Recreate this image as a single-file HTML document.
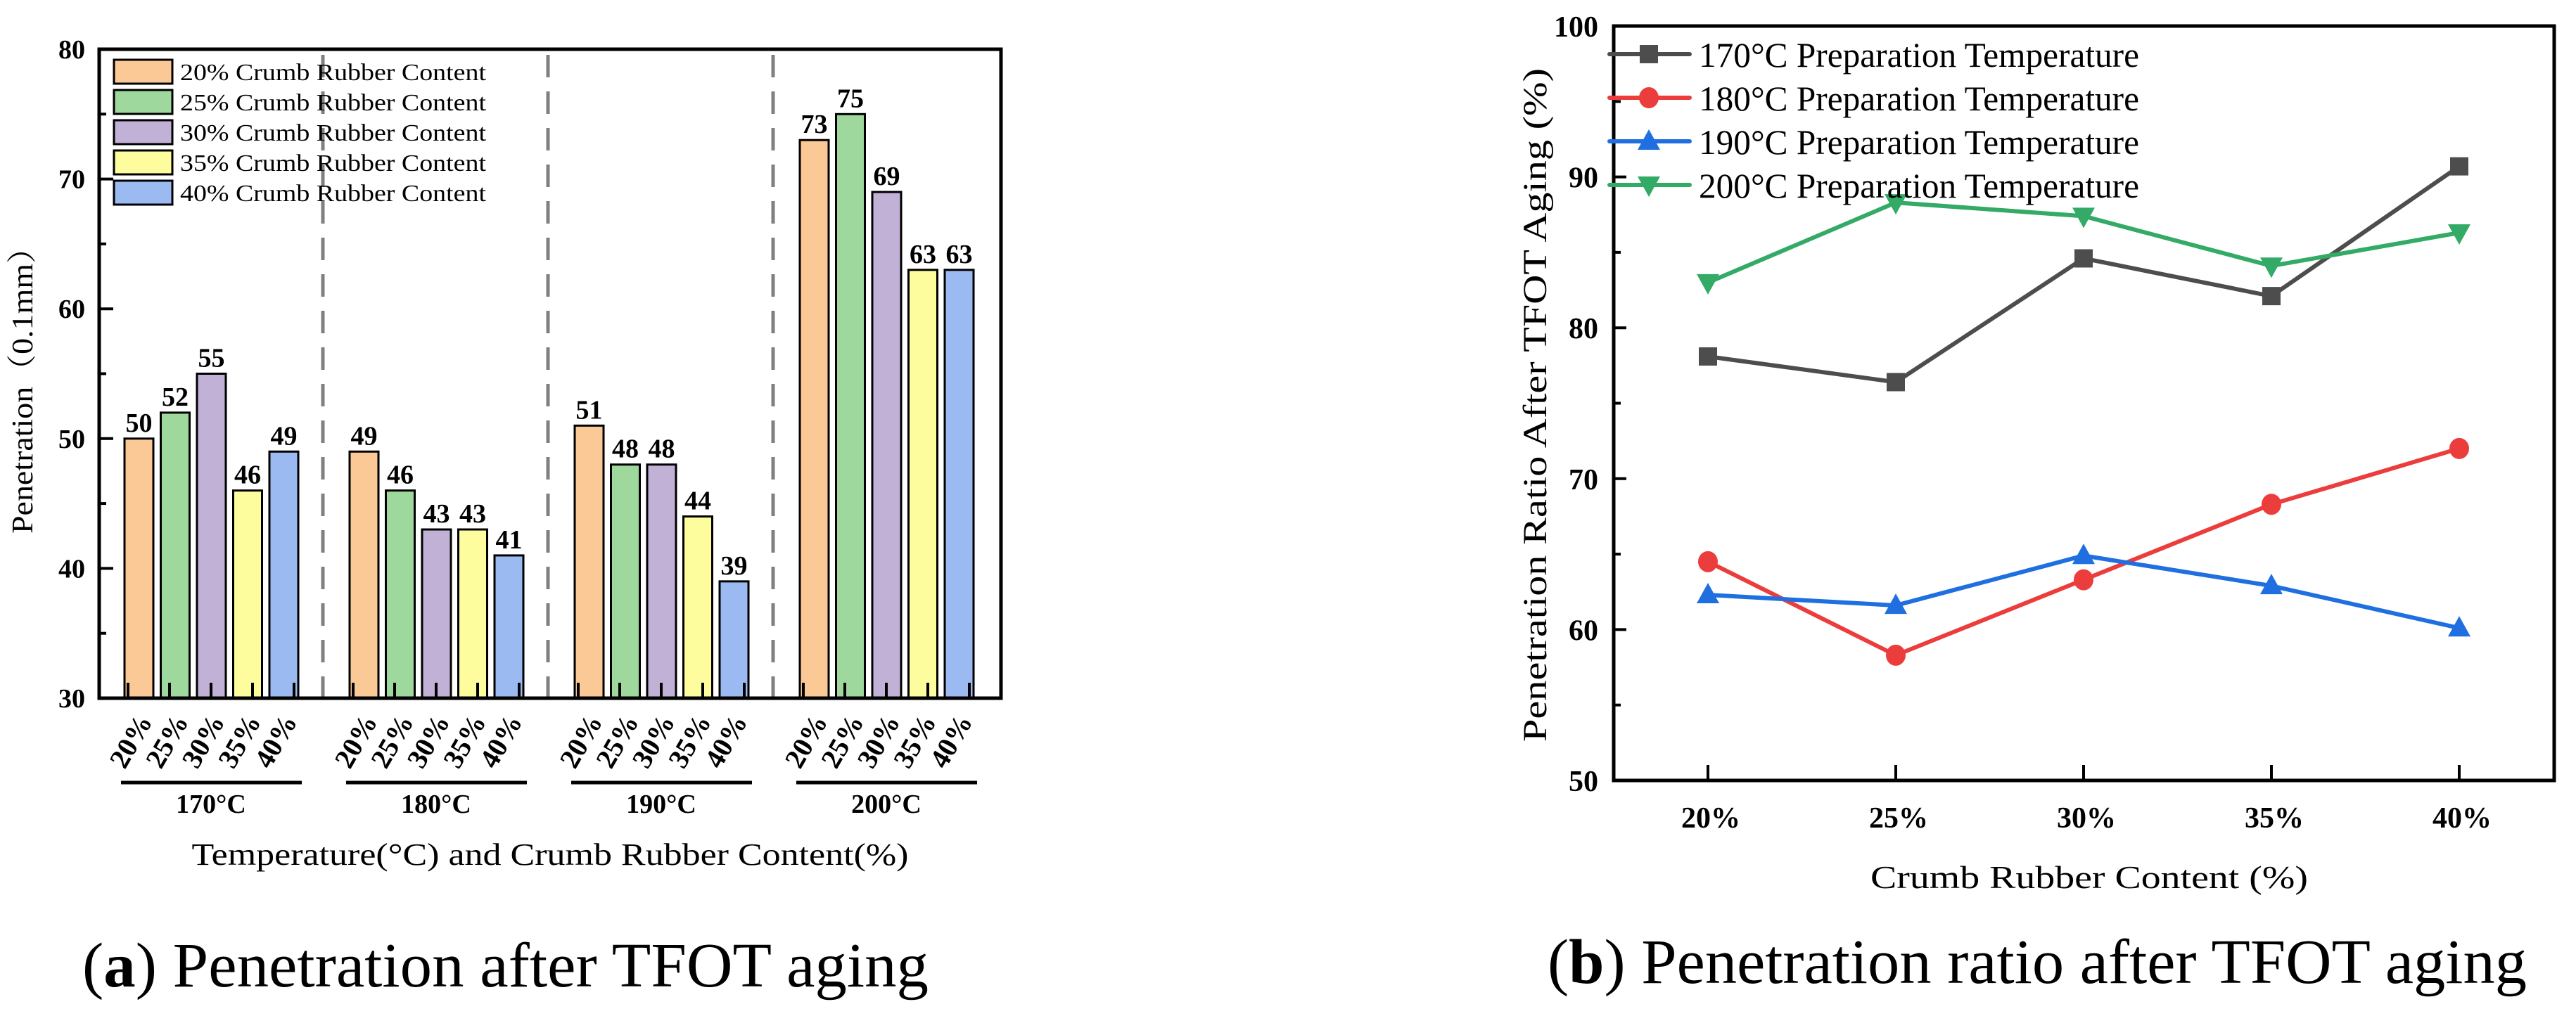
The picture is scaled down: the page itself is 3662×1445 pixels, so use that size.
<!DOCTYPE html>
<html><head><meta charset="utf-8">
<style>
html,body{margin:0;padding:0;background:#fff;}
svg{display:block;font-family:"Liberation Serif","Noto Serif CJK SC",serif;}
</style></head>
<body>
<svg id="fig" width="3662" height="1445" viewBox="0 0 3662 1445" xmlns="http://www.w3.org/2000/svg">
<g id="chartA"></g>
<g id="chartB"></g>
</svg>
<script>
// ---- Chart A data ----
const groups = ["170°C","180°C","190°C","200°C"];
const contents = ["20%","25%","30%","35%","40%"];
const pen170 = [50,52,55,46,49];
const pen180 = [49,46,43,43,41];
const pen190 = [51,48,48,44,39];
const pen200 = [73,75,69,63,63];
const yTicksA = [30,40,50,60,70,80];
const legendA = ["20% Crumb Rubber Content","25% Crumb Rubber Content","30% Crumb Rubber Content","35% Crumb Rubber Content","40% Crumb Rubber Content"];

// ---- Chart B data ----
const categoriesB = ["20%","25%","30%","35%","40%"];
const ratio170 = [78.1,76.4,84.6,82.1,90.7];
const ratio180 = [64.5,58.3,63.3,68.3,72.0];
const ratio190 = [62.3,61.6,64.9,62.9,60.1];
const ratio200 = [83.0,88.3,87.4,84.1,86.3];
const yTicksB = [50,60,70,80,90,100];
const legendB = ["170°C Preparation Temperature","180°C Preparation Temperature","190°C Preparation Temperature","200°C Preparation Temperature"];

const NS="http://www.w3.org/2000/svg";
function mk(parent,tag,attrs,text){const e=document.createElementNS(NS,tag);for(const k in attrs)e.setAttribute(k,attrs[k]);if(text!==undefined)e.textContent=text;parent.appendChild(e);return e;}

// ===== Chart A =====
(function(){
const g=document.getElementById('chartA');
const L=141,R=1423,T=70,B=993;
const yA=v=>B-(v-30)/(80-30)*(B-T);
const barColors=["#fbc996","#9fd89c","#c2b1d6","#fdfd9e","#9cbaf2"];
const series=[pen170,pen180,pen190,pen200];
const gx=gi=>177+320*gi;
const bx=(gi,i)=>gx(gi)+51.5*i;
const bw=41;
for(let gi=1;gi<groups.length;gi++){
  const d=mk(g,'line',{x1:gx(gi)-38,x2:gx(gi)-38,y1:T+8,y2:B,stroke:'#808080','stroke-width':5,'stroke-dasharray':'32,20'});
  
  
}
series.forEach((vals,gi)=>{
  vals.forEach((v,i)=>{
    const r=mk(g,'rect',{x:bx(gi,i),y:yA(v),width:bw,height:B-yA(v),fill:barColors[i],stroke:'#000','stroke-width':3});
    
    
    const t=mk(g,'text',{x:bx(gi,i)+bw/2,y:yA(v)-10,'text-anchor':'middle','font-size':38,'font-weight':'bold'},String(v));
    
    
  });
  for(let i=0;i<5;i++){
    const tx=gx(gi)+5+59*i;
    mk(g,'line',{x1:tx,x2:tx,y1:B,y2:B-22,stroke:'#000','stroke-width':4});
    const lbl=mk(g,'text',{x:0,y:0,'text-anchor':'end','font-size':40,'font-weight':'bold',transform:`translate(${bx(gi,i)+bw/2+20},1026) rotate(-60)`},contents[i]);
    
    
  }
  const ul=mk(g,'line',{x1:gx(gi)-5,x2:gx(gi)+252,y1:1113,y2:1113,stroke:'#000','stroke-width':5});
  
  
  const gl=mk(g,'text',{x:gx(gi)+123,y:1156,'text-anchor':'middle','font-size':38,'font-weight':'bold'},groups[gi]);
  
  
});
const fr=mk(g,'rect',{x:L,y:T,width:R-L,height:B-T,fill:'none',stroke:'#000','stroke-width':5});


yTicksA.forEach(v=>{
  mk(g,'line',{x1:L,x2:L+20,y1:yA(v),y2:yA(v),stroke:'#000','stroke-width':4});
  const t=mk(g,'text',{x:L-20,y:yA(v)+13,'text-anchor':'end','font-size':38,'font-weight':'bold'},String(v));
  
  
  if(v<80) mk(g,'line',{x1:L,x2:L+10,y1:yA(v+5),y2:yA(v+5),stroke:'#000','stroke-width':4});
});
legendA.forEach((s,i)=>{
  const y=85+43*i;
  const sw=mk(g,'rect',{x:162,y:y,width:83,height:34,fill:barColors[i],stroke:'#000','stroke-width':3});
  
  
  const t=mk(g,'text',{x:256,y:y+29,'font-size':34,textLength:435,lengthAdjust:'spacingAndGlyphs'},s);
  
  
});
const xt=mk(g,'text',{x:782,y:1230,'text-anchor':'middle','font-size':44,textLength:1019,lengthAdjust:'spacingAndGlyphs'},'Temperature(°C) and Crumb Rubber Content(%)');


const yt=mk(g,'text',{x:0,y:0,'text-anchor':'middle','font-size':42,textLength:430,lengthAdjust:'spacingAndGlyphs',transform:'translate(46,544) rotate(-90)'},'Penetration（0.1mm）');


const cap=mk(g,'text',{x:117,y:1403,'font-size':90,textLength:1203,lengthAdjust:'spacingAndGlyphs'});


mk(cap,'tspan',{},'(');mk(cap,'tspan',{'font-weight':'bold'},'a');mk(cap,'tspan',{},') Penetration after TFOT aging');
})();

// ===== Chart B =====
(function(){
const g=document.getElementById('chartB');
const L=2294,R=3631,T=37,B=1110;
const yB=v=>B-(v-50)/(100-50)*(B-T);
const xB=i=>2428+267*i;
const colors=["#4d4d4d","#ec3d3d","#1f6fe0","#33aa66"];
const series=[ratio170,ratio180,ratio190,ratio200];
const markers=['square','circle','up','down'];
function marker(par,type,x,y,c){
  let m;
  if(type==='square') m=mk(par,'rect',{x:x-13,y:y-13,width:26,height:26,fill:c});
  else if(type==='circle') m=mk(par,'ellipse',{cx:x,cy:y,rx:14,ry:15,fill:c});
  else if(type==='up') m=mk(par,'polygon',{points:`${x},${y-17} ${x-16},${y+12} ${x+16},${y+12}`,fill:c});
  else m=mk(par,'polygon',{points:`${x},${y+17} ${x-16},${y-12} ${x+16},${y-12}`,fill:c});
  return m;
}
const fr=mk(g,'rect',{x:L,y:T,width:R-L,height:B-T,fill:'none',stroke:'#000','stroke-width':5});


yTicksB.forEach(v=>{
  mk(g,'line',{x1:L,x2:L+18,y1:yB(v),y2:yB(v),stroke:'#000','stroke-width':4});
  if(v<100) mk(g,'line',{x1:L,x2:L+10,y1:yB(v+5),y2:yB(v+5),stroke:'#000','stroke-width':4});
  const t=mk(g,'text',{x:L-22,y:yB(v)+15,'text-anchor':'end','font-size':42,'font-weight':'bold'},String(v));
  
  
});
categoriesB.forEach((c,i)=>{
  mk(g,'line',{x1:xB(i),x2:xB(i),y1:B,y2:B-22,stroke:'#000','stroke-width':4});
  const t=mk(g,'text',{x:xB(i)+4,y:1177,'text-anchor':'middle','font-size':42,'font-weight':'bold'},c);
  
  
});
series.forEach((vals,si)=>{
  const pts=vals.map((v,i)=>`${xB(i)},${yB(v)}`).join(' ');
  const pl=mk(g,'polyline',{points:pts,fill:'none',stroke:colors[si],'stroke-width':6});
  
  
  vals.forEach((v,i)=>{
    const m=marker(g,markers[si],xB(i),yB(v),colors[si]);
    
    
  });
});
legendB.forEach((s,i)=>{
  const y=[77,139,201,263][i];
  const ln=mk(g,'line',{x1:2288,x2:2402,y1:y,y2:y,stroke:colors[i],'stroke-width':6,'stroke-linecap':'round'});
  
  
  marker(g,markers[i],2344,y,colors[i]);
  const t=mk(g,'text',{x:2415,y:y+18,'font-size':50,textLength:626,lengthAdjust:'spacingAndGlyphs'},s);
  
  
});
const xt=mk(g,'text',{x:2970,y:1263,'text-anchor':'middle','font-size':46,textLength:622,lengthAdjust:'spacingAndGlyphs'},'Crumb Rubber Content (%)');


const yt=mk(g,'text',{x:0,y:0,'text-anchor':'middle','font-size':48,textLength:958,lengthAdjust:'spacingAndGlyphs',transform:'translate(2198,576) rotate(-90)'},'Penetration Ratio After TFOT Aging (%)');


const cap=mk(g,'text',{x:2200,y:1398,'font-size':90,textLength:1392,lengthAdjust:'spacingAndGlyphs'});


mk(cap,'tspan',{},'(');mk(cap,'tspan',{'font-weight':'bold'},'b');mk(cap,'tspan',{},') Penetration ratio after TFOT aging');
})();
</script>
</body></html>
